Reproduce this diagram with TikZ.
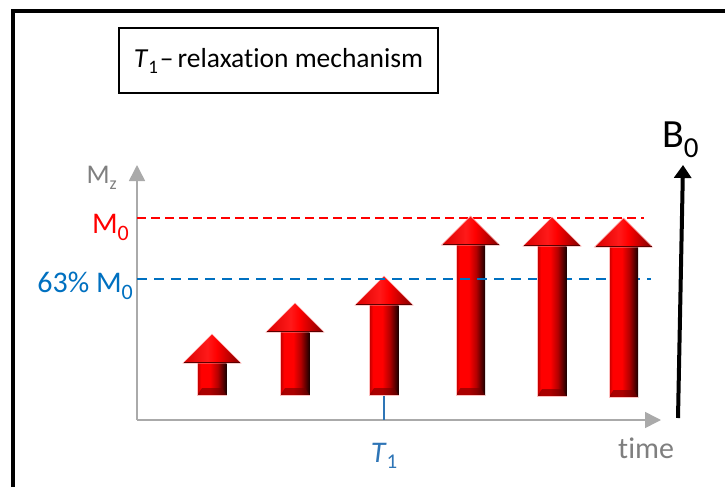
\documentclass[tikz,border=0pt]{standalone}
\usepackage{fontspec}
\setmainfont{Carlito}[Ligatures=NoCommon]
\usetikzlibrary{arrows.meta}
\definecolor{axgray}{RGB}{170,170,170}
\definecolor{txtgray}{RGB}{127,127,127}
\definecolor{mblue}{RGB}{0,112,192}
\definecolor{tblue}{RGB}{46,117,182}
\pgfdeclarehorizontalshading{shaftshade}{100bp}{color(0bp)=(red!75!black); color(25bp)=(red!75!black); color(31bp)=(red); color(47bp)=(red); color(60bp)=(red!70!black); color(75bp)=(black!90!red); color(100bp)=(black!90!red)}
\pgfdeclarehorizontalshading{headshade}{100bp}{color(0bp)=(red!85!black); color(25bp)=(red!85!black); color(46bp)=(red!90!white); color(54bp)=(red); color(75bp)=(red!50!black); color(100bp)=(red!50!black)}
\newcommand\redarrow[4]{%
  \shade[shading=shaftshade] (#1-14.5,#3) rectangle (#1+14.5,#4);
  \fill[red!45!black, opacity=0.6] (#1-14.5,#4) -- (#1+14.5,#4) -- (#1+10,#4-7) -- (#1-10,#4-7) -- cycle;
  \draw[red!25!white, line width=0.6] (#1-14.5,#3) -- (#1-14.5,#4) -- (#1+14.5,#4);
  \shade[shading=headshade, draw=red!30!white, line width=0.6] (#1-29,#3) -- (#1,#2) -- (#1+29,#3) -- cycle;
  \draw[red!35!black, line width=1.4] (#1-28,#3-0.7) -- (#1+28,#3-0.7);
}
\tikzset{
  axis/.style={draw=axgray, line width=1.5pt, -{Triangle[width=16pt,length=16pt]}},
  lab/.style={inner sep=0pt, font=\fontsize{30}{30}\selectfont},
}
\begin{document}
\begin{tikzpicture}[x=1pt, y=-1pt]
\useasboundingbox (0,0) rectangle (725,487);
% frame
\coordinate (fbl) at (12.5,487);
\coordinate (ftl) at (12.5,11.5);
\coordinate (ftr) at (725,11.5);
\draw[line width=4pt] (fbl) -- (ftl) -- (ftr);
% title
\node[draw, line width=1.6pt, minimum width=319pt, minimum height=65pt, inner sep=0pt,
      font=\fontsize{27.5}{27.5}\selectfont] (title) at (278.5,60.5)
  {\textit{T}\raisebox{-0.22em}{\fontsize{19}{19}\selectfont 1}\kern2pt–\kern4pt relaxation mechanism};
% axes
\coordinate (O) at (137,420);
\coordinate (ytip) at (137,165);
\coordinate (xtip) at (661,420);
\draw[axis] (O) -- (ytip);
\draw[axis] (O) -- (xtip);
\node[lab, text=txtgray, anchor=base east, font=\fontsize{27}{27}\selectfont] (mz) at (117,183)
  {M\raisebox{-0.25em}{\fontsize{18}{18}\selectfont z}};
\node[lab, text=red, anchor=base east] (m0) at (129,233)
  {M\raisebox{-0.25em}{\fontsize{22}{22}\selectfont 0}};
\node[lab, text=mblue, anchor=base east] (m63) at (133,292)
  {63\% M\raisebox{-0.25em}{\fontsize{22}{22}\selectfont 0}};
\node[lab, text=txtgray, anchor=base west] (time) at (618,458) {time};
% reference lines
\coordinate (m0a) at (137,218);
\coordinate (m0b) at (644,218);
\draw[red, line width=1.2pt, dash pattern=on 9pt off 5pt] (m0a) -- (m0b);
% T1 marker
\coordinate (t1top) at (384,395);
\coordinate (t1bot) at (384,420);
\draw[tblue, line width=1.2pt] (t1top) -- (t1bot);
\node[lab, text=tblue, anchor=base] (t1) at (384,462)
  {\textit{T}\raisebox{-0.22em}{\fontsize{21}{21}\selectfont 1}};
% arrows
\redarrow{212}{334}{363}{395}
\redarrow{295}{303}{332}{395}
\redarrow{384}{276}{305}{395}
\redarrow{470.5}{216}{245}{395}
\coordinate (m63a) at (137,279);
\coordinate (m63b) at (651,279);
\draw[mblue, line width=2.8pt, dash pattern=on 10pt off 7pt] (m63a) -- (m63b);
\redarrow{552}{217}{246}{396}
\redarrow{623.5}{218}{247}{397}
% B0
\coordinate (b0bot) at (678,418);
\coordinate (b0top) at (683,165);
\draw[line width=4pt, -{Triangle[width=17pt,length=13pt]}] (b0bot) -- (b0top);
\node[inner sep=0pt, anchor=base west, font=\fontsize{40}{40}\selectfont] (b0) at (662,147)
  {B\raisebox{-0.25em}{\fontsize{29}{29}\selectfont 0}};
\end{tikzpicture}
\end{document}
